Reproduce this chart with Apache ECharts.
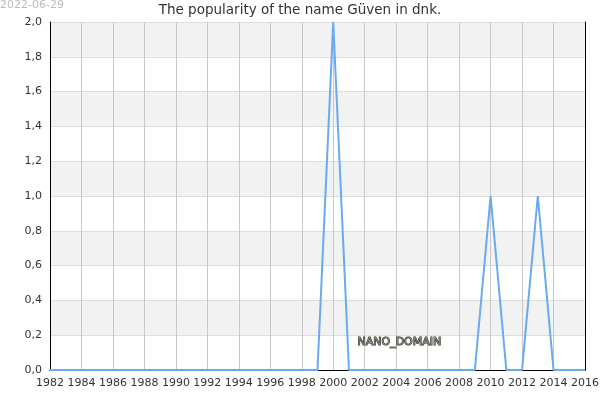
<!DOCTYPE html>
<html><head><meta charset="utf-8">
<script src="https://cdn.jsdelivr.net/npm/echarts@6/dist/echarts.min.js"></script>
<style>html,body{margin:0;padding:0;background:#fff}#c{width:600px;height:400px}</style>
</head><body><div id="c"></div>
<script>
var years = [1982,1983,1984,1985,1986,1987,1988,1989,1990,1991,1992,1993,1994,1995,1996,1997,1998,1999,2000,2001,2002,2003,2004,2005,2006,2007,2008,2009,2010,2011,2012,2013,2014,2015,2016];
var values = [0,0,0,0,0,0,0,0,0,0,0,0,0,0,0,0,0,0,2,0,0,0,0,0,0,0,0,0,1,0,0,1,0,0,0];
var titleText = 'The popularity of the name Güven in dnk.';
var dateText = '2022-06-29';
var watermark = 'Names of the World © 2022';
var font = 'DejaVu Sans';
var chart = echarts.init(document.getElementById('c'));
var frameAxis = {axisLine: {show: true, lineStyle: {color: '#000', width: 1}}, axisTick: {show: false}, axisLabel: {show: false}, splitLine: {show: false}};
chart.setOption({
  animation: false,
  title: {text: titleText, left: 'center', top: 0, padding: [3, 5], textStyle: {fontFamily: font, fontSize: 13.5, fontWeight: 'normal', color: '#333'}},
  grid: {left: 50, right: 15, top: 22, bottom: 30, containLabel: false, outerBoundsMode: 'none'},
  xAxis: [{type: 'value', min: 1982, max: 2016, interval: 2, position: 'bottom', z: 1,
    axisLine: {show: true, onZero: false, lineStyle: {color: '#000', width: 1}}, axisTick: {show: false},
    axisLabel: {fontFamily: font, fontSize: 11, color: '#333', margin: 8, showMinLabel: true, showMaxLabel: true, formatter: function(v){return String(v);}},
    splitLine: {show: true, lineStyle: {color: '#c8c8c8', width: 1}}},
    Object.assign({type: 'value', min: 1982, max: 2016, position: 'top', z: 1}, frameAxis)],
  yAxis: [{type: 'value', min: 0, max: 2, interval: 0.2, position: 'left', z: 1,
    axisLine: {show: true, onZero: false, lineStyle: {color: '#000', width: 1}}, axisTick: {show: false},
    axisLabel: {fontFamily: font, fontSize: 11, color: '#333', margin: 8, showMinLabel: true, showMaxLabel: true, formatter: function(v){return v.toFixed(1).replace('.', ',');}},
    splitLine: {show: true, lineStyle: {color: '#dddddd', width: 1}},
    splitArea: {show: true, areaStyle: {color: ['#ffffff', '#f2f2f2']}}},
    Object.assign({type: 'value', min: 0, max: 2, position: 'right', z: 1}, frameAxis)],
  series: [{type: 'line', data: years.map(function(y, i){return [y, values[i]];}),
    symbol: 'none', lineStyle: {color: '#6aaaf0', width: 2}, z: 10}],
  graphic: [
    {type: 'text', left: 0, top: 0, style: {text: dateText, font: '11px ' + font, fill: '#bbbbbb'}},
    {type: 'text', left: 70, top: 40, style: {text: watermark, font: '11px ' + font, fill: '#ebebfa'}},
    {type: 'text', left: 295, top: 150, style: {text: watermark, font: '11px ' + font, fill: '#ebebfa'}},
    {type: 'text', left: 133, top: 205, style: {text: watermark, font: '11px ' + font, fill: '#ebebfa'}},
    {type: 'text', left: 357, top: 336, z: 20, style: {text: 'NANO_DOMAIN', font: '11px ' + font, fill: '#8a8a80', stroke: '#2a2a22', lineWidth: 1}}
  ]
});
</script></body></html>
